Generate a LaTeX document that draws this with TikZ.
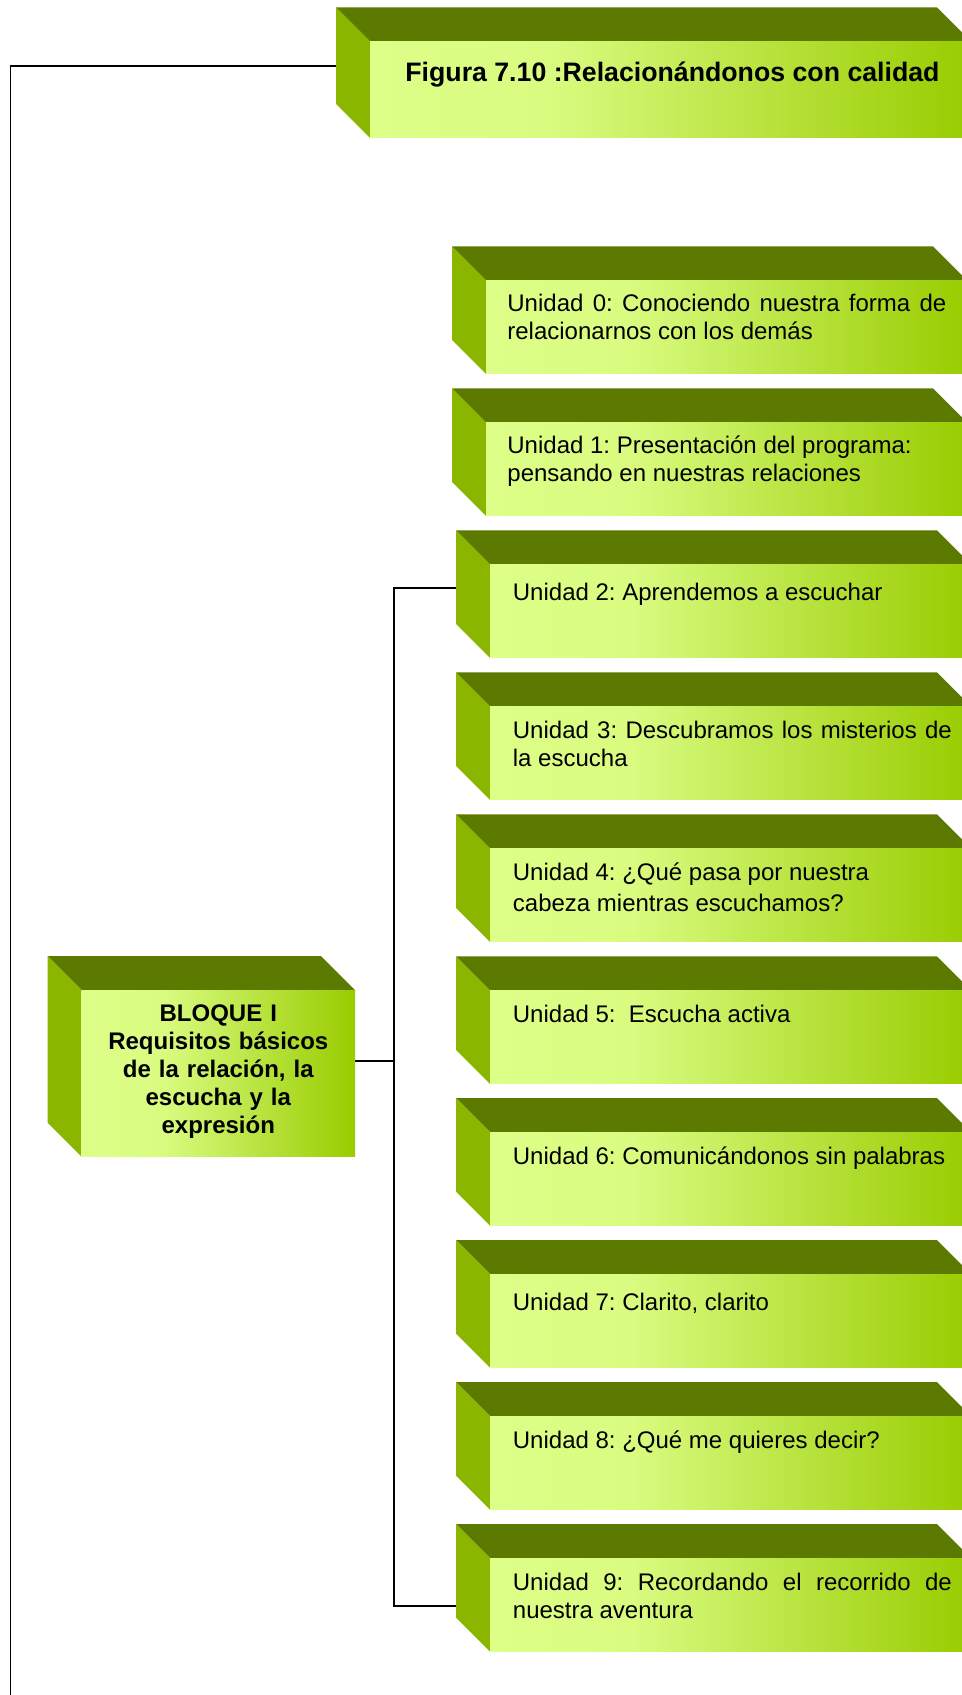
\documentclass[tikz,border=0pt]{standalone}
\usepackage{fontspec}
\setmainfont{Liberation Sans}
\frenchspacing
\hbadness=10000
\tolerance=10000
\hyphenpenalty=10000
\exhyphenpenalty=10000

% light-to-green face shading (path box maps to 25bp..75bp)
\pgfdeclarehorizontalshading{facelight}{100bp}{%
  rgb(0bp)=(0.867,1,0.533); rgb(25bp)=(0.867,1,0.533);
  rgb(40bp)=(0.85,0.985,0.5); rgb(75bp)=(0.6,0.8,0); rgb(100bp)=(0.6,0.8,0)}
\definecolor{topolive}{RGB}{92,122,0}
\definecolor{sidegreen}{RGB}{138,182,0}

\tikzset{
  topface/.style={fill=topolive},
  sideface/.style={fill=sidegreen},
  frontface/.style={shading=facelight},
  link/.style={draw=black, line width=0.9pt},
  unitlabel/.style={anchor=base west, inner sep=0pt, text width=219.5pt, align=justify,
    font=\fontsize{12}{14}\selectfont},
  titlelabel/.style={anchor=base west, inner sep=0pt,
    font=\fontsize{13.35}{15}\selectfont\bfseries},
  blocklabel/.style={anchor=base, inner sep=0pt, text width=136pt, align=center,
    font=\fontsize{12}{14.1}\selectfont\bfseries},
}

% 3-D block: back-left x, top y, front-right x, bottom y (depth 34)
\newcommand\greencube[4]{%
  \fill[topface] (#1,#2) -- ({#3-34},#2) -- (#3,{#2+34}) -- ({#1+34},{#2+34}) -- cycle;
  \fill[sideface] (#1,#2) -- ({#1+34},{#2+34}) -- ({#1+34},#4) -- (#1,{#4-34}) -- cycle;
  \shade[frontface] ({#1+34},{#2+34}) rectangle (#3,#4);
}

\begin{document}
\begin{tikzpicture}[x=0.5pt, y=-0.5pt]
\useasboundingbox (0,0) rectangle (962,1695);
\clip (0,0) rectangle (962,1695);

% connectors
\coordinate (tw) at (336,65.7);
\coordinate (edge) at (10.4,1700);
\draw[link] (tw) -| (edge);

\coordinate (u2w) at (456,588.3);
\coordinate (u9w) at (456,1606);
\coordinate (spine) at (394,588.3);
\coordinate (b1e) at (355,1060.7);
\draw[link] (u2w) -- (spine) |- (u9w);
\draw[link] (b1e) -- (b1e -| spine);

% title block
\greencube{336}{7.5}{971}{138}
\node[titlelabel] (t) at (405,82) {Figura 7.10 :Relacionándonos con calidad};

% block I
\greencube{47.7}{956}{355}{1156.7}
\node[blocklabel] (b1) at (218.3,1021) {BLOQUE I\\Requisitos básicos\\de la relación, la\\escucha y la\\expresión};

% units
\greencube{452}{246.4}{967}{373.9}
\node[unitlabel] (u0) at (507,311.4) {Unidad 0: Conociendo nuestra forma de\linebreak relacionarnos con los demás};

\greencube{452}{388.4}{967}{515.9}
\node[unitlabel] (u1) at (507,453.4) {Unidad 1: Presentación del programa:\\pensando en nuestras relaciones};

\greencube{456}{530.3}{971}{657.8}
\node[unitlabel] (u2) at (512.5,600.3) {Unidad 2: Aprendemos a escuchar};

\greencube{456}{672.3}{971}{799.8}
\node[unitlabel] (u3) at (512.5,738.3) {Unidad 3: Descubramos los misterios de\linebreak la escucha};

\greencube{456}{814.3}{971}{941.8}
\node[unitlabel] (u4) at (512.5,880.3) {Unidad 4: ¿Qué pasa por nuestra\\[1.7pt]cabeza mientras escuchamos?};

\greencube{456}{956.3}{971}{1083.8}
\node[unitlabel] (u5) at (512.5,1022.3) {Unidad 5:\ \ Escucha activa};

\greencube{456}{1098.2}{971}{1225.7}
\node[unitlabel] (u6) at (512.5,1164.2) {Unidad 6: Comunicándonos sin palabras};

\greencube{456}{1240.2}{971}{1367.7}
\node[unitlabel] (u7) at (512.5,1310.2) {Unidad 7: Clarito, clarito};

\greencube{456}{1382.2}{971}{1509.7}
\node[unitlabel] (u8) at (512.5,1448.2) {Unidad 8: ¿Qué me quieres decir?};

\greencube{456}{1524.1}{971}{1651.6}
\node[unitlabel] (u9) at (512.5,1590.1) {Unidad 9: Recordando el recorrido de\linebreak nuestra aventura};
\end{tikzpicture}
\end{document}
